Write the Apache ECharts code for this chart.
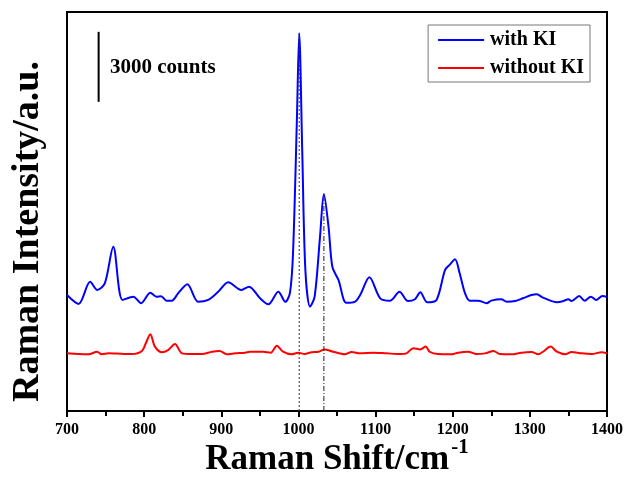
<!DOCTYPE html>
<html>
<head>
<meta charset="utf-8">
<script src="https://cdn.jsdelivr.net/npm/echarts@6/dist/echarts.min.js"></script>
<style>
  html, body { margin: 0; padding: 0; background: #fff; }
  #chart { width: 625px; height: 477px; }
</style>
</head>
<body>
<div id="chart"></div>
<script>
// Raman shift (cm^-1) and intensity (counts)
const withKI = [
  [700, 4970], [715, 4590], [730, 5540], [739, 5190], [749, 5470], [760, 7040],
  [772, 4760], [786, 4900], [796, 4620], [808, 5070], [816, 4900], [822, 4920],
  [829, 4730], [836, 4730], [844, 5040], [856, 5430], [870, 4680], [883, 4760],
  [896, 5110], [909, 5520], [926, 5190], [936, 5330], [950, 4840], [961, 4570],
  [974, 5110], [983, 4680], [989, 5060], [993, 6770], [998, 12470], [1001, 16190],
  [1005, 11060], [1009, 6040], [1015, 4470], [1021, 4900], [1028, 7470], [1033, 9300],
  [1039, 7900], [1044, 6180], [1052, 5610], [1062, 4640], [1073, 4680], [1080, 4970],
  [1092, 5730], [1106, 4830], [1119, 4730], [1131, 5110], [1142, 4710], [1151, 4790],
  [1158, 5090], [1167, 4660], [1179, 4760], [1190, 6040], [1196, 6260], [1203, 6500],
  [1209, 5900], [1216, 5040], [1222, 4730], [1233, 4730], [1244, 4620], [1250, 4730],
  [1263, 4790], [1270, 4680], [1281, 4710], [1291, 4830], [1302, 4970], [1309, 5000],
  [1317, 4860], [1335, 4660], [1343, 4710], [1350, 4790], [1354, 4710], [1364, 4930],
  [1371, 4730], [1379, 4900], [1386, 4760], [1394, 4930], [1400, 4900]
];
const withoutKI = [
  [700, 2470], [715, 2440], [728, 2430], [739, 2540], [745, 2430], [754, 2470],
  [764, 2460], [784, 2440], [797, 2570], [803, 2970], [808, 3290], [814, 2760],
  [823, 2520], [831, 2610], [840, 2870], [849, 2470], [862, 2440], [875, 2440],
  [888, 2540], [898, 2570], [907, 2430], [918, 2470], [931, 2500], [937, 2540],
  [954, 2540], [964, 2500], [972, 2800], [980, 2540], [991, 2430], [1000, 2500],
  [1008, 2440], [1017, 2520], [1026, 2540], [1034, 2640], [1045, 2540], [1060, 2430],
  [1069, 2530], [1080, 2470], [1097, 2500], [1114, 2470], [1132, 2440], [1140, 2470],
  [1149, 2690], [1158, 2640], [1165, 2760], [1170, 2540], [1181, 2440], [1199, 2430],
  [1207, 2500], [1220, 2540], [1231, 2440], [1242, 2470], [1253, 2570], [1261, 2440],
  [1276, 2430], [1289, 2500], [1302, 2530], [1311, 2430], [1317, 2540], [1327, 2760],
  [1335, 2540], [1346, 2430], [1354, 2530], [1367, 2470], [1380, 2440], [1393, 2520],
  [1400, 2470]
];
// peak guides and the 3000-count scale bar
const peak1 = [[1001, 0], [1001, 16190]];
const peak2 = [[1033, 0], [1033, 9300]];
const scaleBar = [[741, 13250], [741, 16250]];

const FONT = "'Liberation Serif', 'Times New Roman', serif";

const chart = echarts.init(document.getElementById("chart"));

chart.setOption({
  animation: false,
  grid: {
    left: 67, right: 18, top: 12, bottom: 66,
    outerBoundsMode: "none",
    show: true, borderColor: "#000", borderWidth: 2, backgroundColor: "transparent",
  },
  legend: {
    data: ["with KI", "without KI"],
    orient: "vertical",
    right: 35, top: 25,
    icon: "rect",
    itemWidth: 46, itemHeight: 2, itemGap: 8,
    padding: [5, 6, 4, 10],
    borderColor: "#777", borderWidth: 1,
    textStyle: { fontFamily: FONT, fontWeight: "bold", fontSize: 20, color: "#000", padding: [0, 0, 0, 1] },
  },
  xAxis: {
    type: "value",
    min: 700, max: 1400, interval: 100,
    name: "{t|Raman Shift/cm}{s|-1}",
    nameLocation: "middle",
    nameGap: 26,
    nameMoveOverlap: false,
    nameTextStyle: {
      rich: {
        t: { fontFamily: FONT, fontWeight: "bold", fontSize: 35, color: "#000" },
        s: { fontFamily: FONT, fontWeight: "bold", fontSize: 21, color: "#000", padding: [0, 0, 24, 2] },
      },
    },
    axisLine: { lineStyle: { color: "#000", width: 2 } },
    axisTick: { inside: false, length: 6, lineStyle: { width: 2 } },
    minorTick: { show: true, splitNumber: 2, length: 5, lineStyle: { color: "#000", width: 2 } },
    axisLabel: {
      fontFamily: FONT, fontWeight: "bold", fontSize: 16, color: "#000", margin: 11,
      formatter: (v) => String(v),
    },
    splitLine: { show: false },
  },
  yAxis: {
    type: "value",
    min: 0, max: 17100,
    name: "Raman Intensity/a.u.",
    nameLocation: "middle",
    nameRotate: 90,
    nameGap: 20,
    nameMoveOverlap: false,
    nameTextStyle: {
      fontFamily: FONT, fontWeight: "bold", fontSize: 38, color: "#000",
      padding: [0, 40, 0, 0],
    },
    axisLine: { show: true, lineStyle: { color: "#000", width: 2 } },
    axisTick: { show: false },
    axisLabel: { show: false },
    splitLine: { show: false },
  },
  graphic: [
    {
      type: "text",
      left: 110, top: 57,
      style: { text: "3000 counts", fontFamily: FONT, fontWeight: "bold", fontSize: 21, fill: "#000" },
    },
  ],
  series: [
    {
      name: "with KI", type: "line", data: withKI, smooth: 0.3, symbol: "none",
      lineStyle: { color: "#0000ff", width: 2 }, itemStyle: { color: "#0000ff" }, z: 3,
    },
    {
      name: "without KI", type: "line", data: withoutKI, smooth: 0.3, symbol: "none",
      lineStyle: { color: "#ff0000", width: 2 }, itemStyle: { color: "#ff0000" }, z: 3,
    },
    {
      type: "line", data: peak1, symbol: "none", silent: true, z: 4,
      lineStyle: { color: "#333", width: 1, type: [2, 2] },
    },
    {
      type: "line", data: peak2, symbol: "none", silent: true, z: 4,
      lineStyle: { color: "#222", width: 1, type: [5, 2, 1, 2] },
    },
    {
      type: "line", data: scaleBar, symbol: "none", silent: true,
      lineStyle: { color: "#000", width: 2 },
    },
  ],
});
</script>
</body>
</html>
